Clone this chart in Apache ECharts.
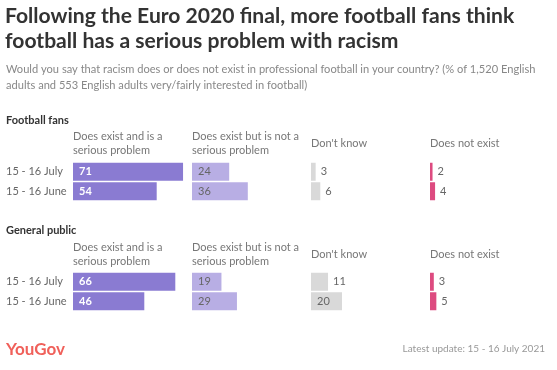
<!DOCTYPE html>
<html><head><meta charset="utf-8">
<script src="https://cdn.jsdelivr.net/npm/echarts@6/dist/echarts.min.js"></script>
<style>html,body{margin:0;padding:0;background:#fff}#c{width:557px;height:370px}</style>
</head><body><div id="c"></div>
<script>
const categories = ['15 - 16 July', '15 - 16 June'];
const columnHeaders = ['Does exist and is a\nserious problem', 'Does exist but is not a\nserious problem', "Don't know", 'Does not exist'];
const sectionNames = ['Football fans', 'General public'];
const fansSerious = [71, 54];
const fansNotSerious = [24, 36];
const fansDontKnow = [3, 6];
const fansNotExist = [2, 4];
const publicSerious = [66, 46];
const publicNotSerious = [19, 29];
const publicDontKnow = [11, 20];
const publicNotExist = [3, 5];

const FONT = 'Lato, "Open Sans", sans-serif';
const colLeft = [73, 192, 311, 430];
const sectionTop = [162, 272];
const colors = ['#8a7bd2', '#b8aee4', '#d9d9d9', '#dd4b80'];
const sections = [
  [fansSerious, fansNotSerious, fansDontKnow, fansNotExist],
  [publicSerious, publicNotSerious, publicDontKnow, publicNotExist]
];

const grids = [], xAxes = [], yAxes = [], series = [];
sections.forEach((sec, s) => {
  sec.forEach((vals, c) => {
    const idx = grids.length;
    grids.push({left: colLeft[c], top: sectionTop[s], width: 155, height: 39});
    xAxes.push({gridIndex: idx, type: 'value', min: 0, max: 100, show: false});
    yAxes.push({
      gridIndex: idx, type: 'category', data: categories, inverse: true,
      axisLine: {show: false}, axisTick: {show: false}, splitLine: {show: false},
      axisLabel: {show: c === 0, align: 'left', margin: 67, color: '#666', fontSize: 11, fontFamily: FONT}
    });
    series.push({
      type: 'bar', xAxisIndex: idx, yAxisIndex: idx, barWidth: 18,
      itemStyle: {color: colors[c]},
      data: vals.map(v => {
        const inside = v >= 15;
        return {
          value: v,
          label: {
            show: true,
            position: inside ? 'insideLeft' : 'right',
            distance: inside ? 6 : 5,
            color: c === 0 ? '#fff' : '#666',
            fontWeight: c === 0 ? 'bold' : 'normal',
            fontSize: 11, fontFamily: FONT
          }
        };
      }),
      label: {show: true, formatter: '{c}'}
    });
  });
});

const graphic = [
  {type: 'text', left: 5, top: 4, style: {text: 'Following the Euro 2020 final, more football fans think\nfootball has a serious problem with racism', font: 'bold 21.1px ' + FONT, fill: '#333', lineHeight: 25}},
  {type: 'text', left: 6, top: 61, style: {text: 'Would you say that racism does or does not exist in professional football in your country? (% of 1,520 English\nadults and 553 English adults very/fairly interested in football)', font: '11.1px ' + FONT, fill: '#888', lineHeight: 16}},
  {type: 'text', left: 6, top: 341, style: {text: 'YouGov', font: 'bold 17px ' + FONT, fill: '#f0605a'}},
  {type: 'text', right: 12, top: 344, style: {text: 'Latest update: 15 - 16 July 2021', font: '10px ' + FONT, fill: '#999'}}
];
const headerMid = [143.5, 254.5];
const sectionTitleY = [120, 230];
sectionNames.forEach((n, s) => {
  graphic.push({type: 'text', x: 6, y: sectionTitleY[s], style: {text: n, font: 'bold 11px ' + FONT, fill: '#333', textVerticalAlign: 'middle'}});
  columnHeaders.forEach((h, c) => {
    graphic.push({type: 'text', x: colLeft[c], y: headerMid[s], style: {text: h, font: '11px ' + FONT, fill: '#777', lineHeight: 13.5, textVerticalAlign: 'middle'}});
  });
});

const chart = echarts.init(document.getElementById('c'), null, {renderer: 'canvas'});
chart.setOption({
  animation: false,
  backgroundColor: '#fff',
  grid: grids, xAxis: xAxes, yAxis: yAxes, series: series, graphic: graphic
});
</script></body></html>
